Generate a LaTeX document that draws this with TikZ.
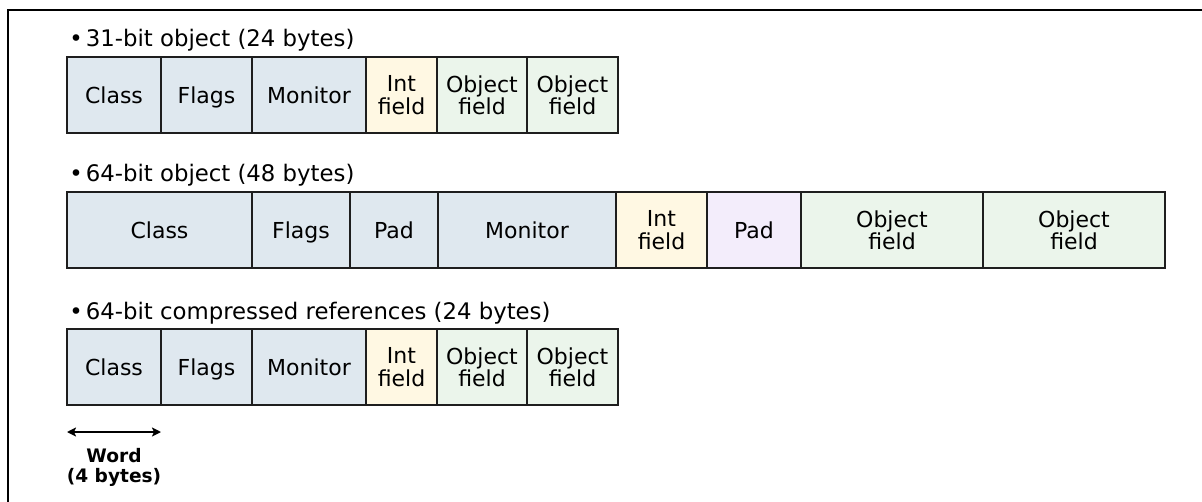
\documentclass[tikz,border=0pt]{standalone}
\usepackage{fontspec}
\setmainfont{DejaVu Sans}
\usetikzlibrary{positioning,arrows.meta}
\definecolor{hdrBlue}{HTML}{DFE8EF}
\definecolor{intYellow}{HTML}{FFF8E3}
\definecolor{objGreen}{HTML}{EBF5EB}
\definecolor{padLilac}{HTML}{F3EDFB}
\definecolor{lineInk}{HTML}{1E1E1E}

\begin{document}
\begin{tikzpicture}[x=0.5pt, y=-0.5pt, >=Stealth, node distance=0pt,
          cell/.style={draw=lineInk, line width=0.75pt, minimum height=38pt, inner sep=0pt, outer sep=0pt, align=center, font=\fontsize{11pt}{11.2pt}\selectfont},
          oneline/.style={text height=8.2pt, text depth=0pt},
          hdr/.style={cell, oneline, fill=hdrBlue},
          intf/.style={cell, fill=intYellow},
          objf/.style={cell, fill=objGreen},
          padf/.style={cell, oneline, fill=padLilac},
          rowlbl/.style={anchor=base west, inner sep=0pt, font=\fontsize{11.4pt}{13pt}\selectfont},
          wordlbl/.style={anchor=north, inner sep=0pt, align=center, font=\fontsize{9.3pt}{10pt}\selectfont\bfseries}]
        \useasboundingbox (0,0) rectangle (1202,502);
        \draw[line width=0.75pt] (1202,10) -- (8,10) -- (8,502);
        % the two 24-byte layouts share one set of cells
        \foreach \r/\y/\txt in {a/95/31-bit object (24 bytes), c/367/64-bit compressed references (24 bytes)} {
          \node[hdr, minimum width=47pt, anchor=west] (\r1) at (67,\y) {Class};
          \node[hdr, minimum width=45.5pt, right=of \r1] (\r2) {Flags};
          \node[hdr, minimum width=57pt, right=of \r2] (\r3) {Monitor};
          \node[intf, minimum width=35.5pt, right=of \r3] (\r4) {Int\\field};
          \node[objf, minimum width=45pt, right=of \r4] (\r5) {Object\\field};
          \node[objf, minimum width=45.5pt, right=of \r5] (\r6) {Object\\field};
          \node[rowlbl] at ([xshift=1pt, yshift=5pt]\r1.north west) {\textbullet\hspace{1.5pt}\txt};
        }
        \node[hdr, minimum width=92.5pt, anchor=west] (b1) at (67,230) {Class};
        \node[hdr, minimum width=49pt, right=of b1] (b2) {Flags};
        \node[hdr, minimum width=44pt, right=of b2] (b3) {Pad};
        \node[hdr, minimum width=89pt, right=of b3] (b4) {Monitor};
        \node[intf, minimum width=45.5pt, right=of b4] (b5) {Int\\field};
        \node[padf, minimum width=47pt, right=of b5] (b6) {Pad};
        \node[objf, minimum width=91pt, right=of b6] (b7) {Object\\field};
        \node[objf, minimum width=91pt, right=of b7] (b8) {Object\\field};
        \node[rowlbl] at ([xshift=1pt, yshift=5pt]b1.north west) {\textbullet\hspace{1.5pt}64-bit object (48 bytes)};
        % word scale under the last row
        \coordinate (wl) at ([yshift=-13.5pt]c1.south west);
        \coordinate (wr) at ([yshift=-13.5pt]c1.south east);
        \draw[{Stealth[length=4.5pt, width=4.5pt, inset=1pt]}-{Stealth[length=4.5pt, width=4.5pt, inset=1pt]}, line width=1.1pt] (wl) -- node[wordlbl, below=7.5pt] (word) {Word\\(4 bytes)} (wr);
      \end{tikzpicture}
\end{document}
